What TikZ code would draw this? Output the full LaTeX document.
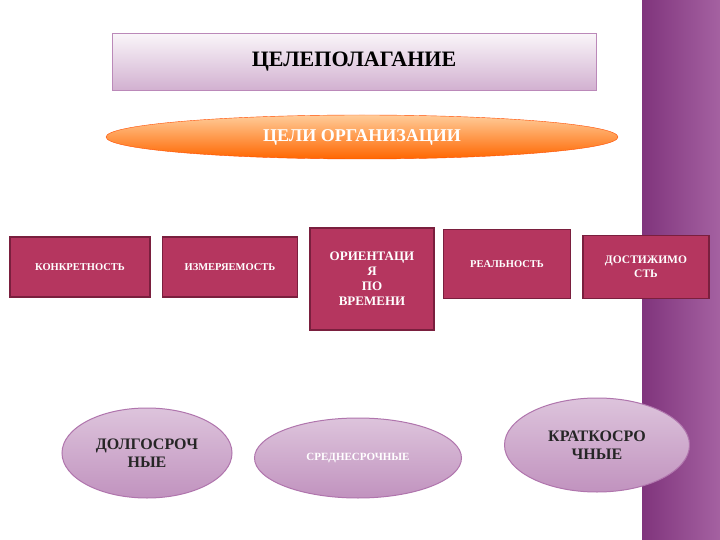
\documentclass[tikz,border=0pt]{standalone}
\usepackage{fontspec}
\setmainfont{Liberation Serif}
\usetikzlibrary{arrows.meta,shapes.geometric,calc,backgrounds}
\definecolor{crim}{HTML}{B5365F}
\definecolor{crimd}{HTML}{7A1F3E}
\definecolor{band}{HTML}{8E3A8A}
\begin{document}
\begin{tikzpicture}[x=1pt,y=-1pt,
 box/.style={draw=crimd,line width=1.2pt,fill=crim,text=white,font=\bfseries\fontsize{10.5}{12}\selectfont,align=center,inner sep=2pt},
 blk/.style={draw=crimd,line width=15pt,-{Triangle[width=30pt,length=17pt]},shorten >=0pt},
 blkin/.style={draw=crim,line width=12pt,-{Triangle[width=25pt,length=14pt]}},
 oval/.style={ellipse,draw=band!70,line width=1pt,top color=white!70!band,bottom color=band!55,text=black!85,font=\bfseries\fontsize{16}{18}\selectfont,align=center}]
\useasboundingbox (0,0) rectangle (720,540);
\fill[white] (0,0) rectangle (720,540);
\shade[left color=band!90!black,right color=band!80] (642,0) rectangle (720,540);
\node[draw=band!60,line width=1pt,top color=white!95!band,bottom color=band!40,minimum width=484pt,minimum height=57pt,font=\bfseries\fontsize{22}{24}\selectfont] (t) at (354,62) {ЦЕЛЕПОЛАГАНИЕ};
\node[ellipse,top color=orange!40!white,bottom color=orange!80!red,draw=orange!60!red,minimum width=512pt,minimum height=44pt,inner sep=0pt,text=white,font=\bfseries\fontsize{18}{20}\selectfont] (e) at (362,137) {ЦЕЛИ ОРГАНИЗАЦИИ};
\node[box,minimum width=140pt,minimum height=60pt] (b1) at (80,267) {КОНКРЕТНОСТЬ};
\node[box,minimum width=135pt,minimum height=60pt] (b2) at (230,267) {ИЗМЕРЯЕМОСТЬ};
\node[box,minimum width=124pt,minimum height=102pt,font=\bfseries\fontsize{13}{15}\selectfont] (b3) at (372,279) {ОРИЕНТАЦИ\\Я\\ПО\\ВРЕМЕНИ};
\node[box,minimum width=127pt,minimum height=69pt] (b4) at (507,264) {РЕАЛЬНОСТЬ};
\node[box,minimum width=126pt,minimum height=63pt,font=\bfseries\fontsize{11.5}{14}\selectfont] (b5) at (646,267) {ДОСТИЖИМО\\СТЬ};
\node[oval,minimum width=170pt,minimum height=90pt] (o1) at (147,453) {ДОЛГОСРОЧ\\НЫЕ};
\node[oval,minimum width=207pt,minimum height=80pt,font=\bfseries\fontsize{11}{13}\selectfont,text=white] (o2) at (358,458) {СРЕДНЕСРОЧНЫЕ};
\node[oval,minimum width=185pt,minimum height=94pt] (o3) at (597,445) {КРАТКОСРО\\ЧНЫЕ};
\coordinate (s0) at (360,91); \coordinate (d0) at (360,118);
\coordinate (s1) at (118,147); \coordinate (s2) at (213,157);
\coordinate (s3) at (368,160); \coordinate (s4) at (508,155);
\coordinate (s5) at (603,140);
\coordinate (s6) at (322,310); \coordinate (s7) at (372,320); \coordinate (s8) at (424,310);
\coordinate (d6) at (228,428); \coordinate (d7) at (372,412); \coordinate (d8) at (532,422);
\begin{pgfonlayer}{background}
\foreach \a/\b in {s0/d0,s1/b1.north-|s1,s2/b2.north-|s2,s3/b3.north-|s3,s4/b4.north-|s4,s5/b5.north-|s5}{
 \draw[blk] (\a) -- (\b); \draw[blkin] ([yshift=1pt]\a) -- ([yshift=-1.5pt]\b);}
\foreach \a/\b in {s6/d6,s7/d7,s8/d8}{\draw[blk] (\a) -- (\b); \draw[blkin] (\a) -- ($(\a)!0.98!(\b)$);}
\shade[left color=band!90!black,right color=band!80] (642,0) rectangle (720,540);
\fill[white] (0,0) rectangle (642,540);
\end{pgfonlayer}
\end{tikzpicture}
\end{document}
